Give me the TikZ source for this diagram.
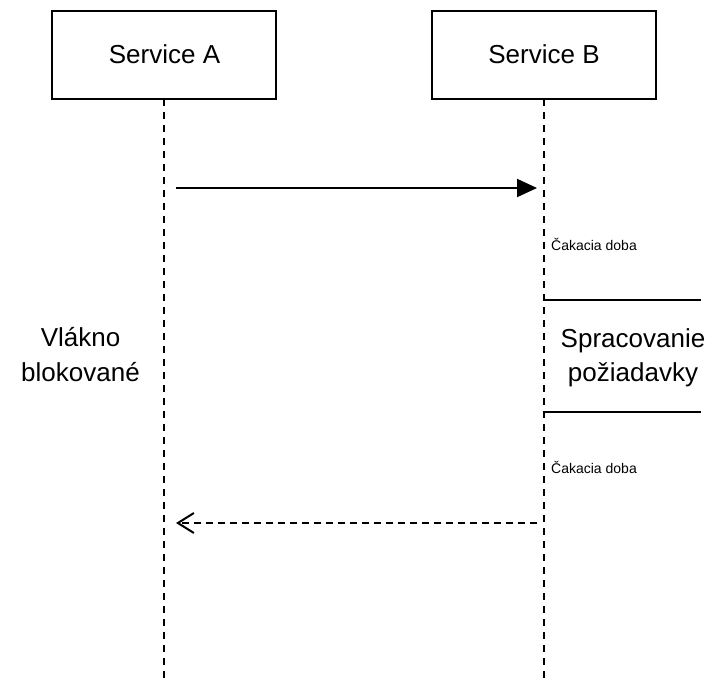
\documentclass[tikz,border=0pt]{standalone}
\usepackage{fontspec}
\setmainfont{Liberation Sans}
\usetikzlibrary{arrows.meta}
\begin{document}
\begin{tikzpicture}[x=1pt,y=-1pt,
  svc/.style={draw=black,line width=2pt,minimum width=224pt,minimum height=88pt,inner sep=0pt,outer sep=0pt},
  lifeline/.style={draw=black,line width=2pt,dash pattern=on 7pt off 6pt},
  msg/.style={draw=black,line width=2pt,-{Triangle[length=20pt,width=18pt]}},
  reply/.style={draw=black,line width=2pt,dash pattern=on 7pt off 5pt,-{Straight Barb[length=16pt,width=20pt,line width=2pt]}},
  bar/.style={draw=black,line width=2pt},
  big/.style={font=\fontsize{26}{34}\selectfont,align=center,inner sep=0pt},
  small/.style={font=\fontsize{14}{16}\selectfont,inner sep=0pt,anchor=base west}]
\useasboundingbox (0,0) rectangle (708,678);
\fill[white] (0,0) rectangle (708,678);
\node[svc] (A) at (164,55) {};
\node[svc] (B) at (544,55) {};
\node[anchor=base,inner sep=0pt,font=\fontsize{26}{31}\selectfont] (At) at (164.5,63.5) {Service A};
\node[anchor=base,inner sep=0pt,font=\fontsize{26}{31}\selectfont] (Bt) at (544,63.5) {Service B};
\coordinate (Aend) at (164,678);
\coordinate (Bend) at (544,678);
\draw[lifeline] (A.south) -- (Aend);
\draw[lifeline] (B.south) -- (Bend);
\coordinate (m1s) at (176,188);
\coordinate (m1e) at (537,188);
\draw[msg] (m1s) -- (m1e);
\coordinate (m2s) at (537,523);
\coordinate (m2e) at (176,523);
\draw[reply] (m2s) -- (m2e);
\coordinate (b1s) at (544,300);
\coordinate (b1e) at (701,300);
\coordinate (b2s) at (544,412);
\coordinate (b2e) at (701,412);
\draw[bar] (b1s) -- (b1e);
\draw[bar] (b2s) -- (b2e);
\node[small] (w1) at (551,250) {Čakacia doba};
\node[small] (w2) at (551,473) {Čakacia doba};
\node[big,anchor=base] (p1) at (633,347.5) {Spracovanie};
\node[big,anchor=base] (p2) at (633,381) {požiadavky};
\node[big,anchor=base] (v1) at (80.5,346.5) {Vlákno};
\node[big,anchor=base] (v2) at (80.5,381.5) {blokované};
\end{tikzpicture}
\end{document}
